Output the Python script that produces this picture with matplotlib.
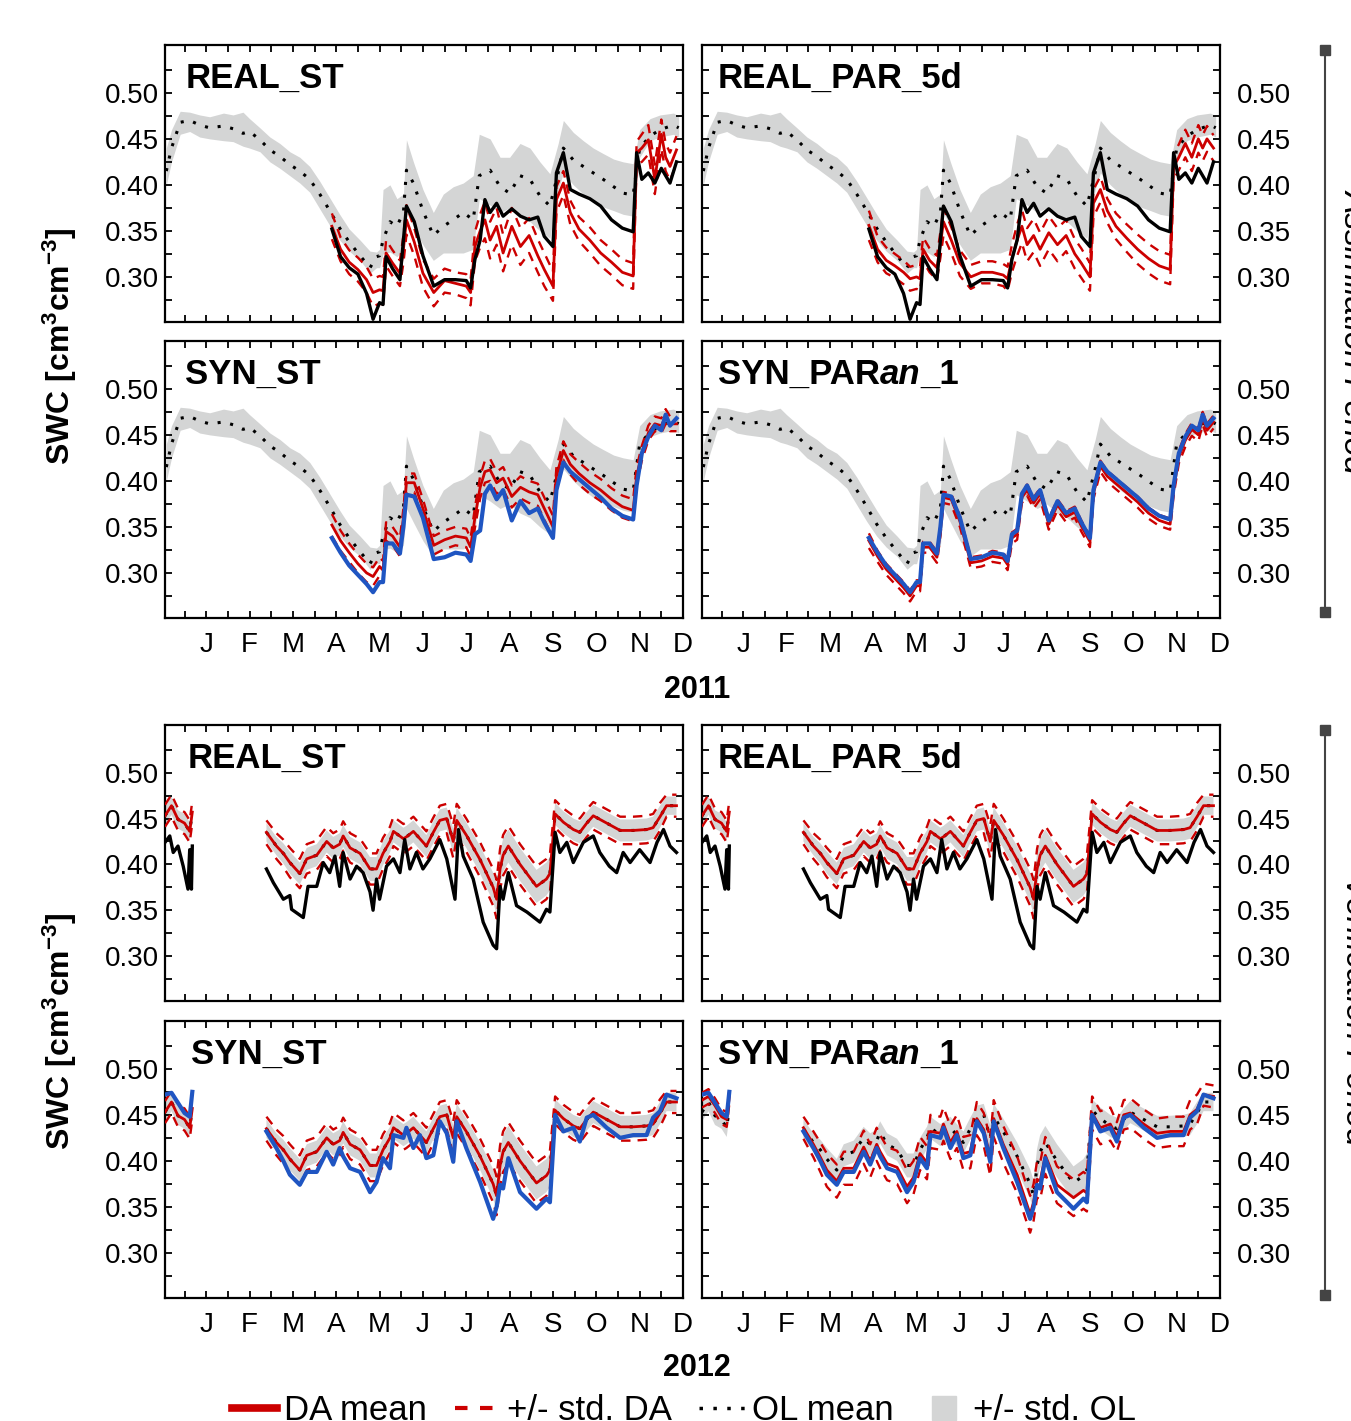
import numpy as np
import matplotlib.pyplot as plt
from matplotlib.lines import Line2D

plt.rcParams['font.family'] = ['Liberation Sans', 'DejaVu Sans']
plt.rcParams['mathtext.fontset'] = 'custom'
plt.rcParams['mathtext.rm'] = 'Liberation Sans'
plt.rcParams['mathtext.bf'] = 'Liberation Sans:bold'
plt.rcParams['mathtext.default'] = 'bf'

nan = np.nan
months = ['J', 'F', 'M', 'A', 'M', 'J', 'J', 'A', 'S', 'O', 'N', 'D']
ytick_vals = [0.30, 0.35, 0.40, 0.45, 0.50]
ytick_labels = ['0.30', '0.35', '0.40', '0.45', '0.50']

# ---- 2011 (assimilation period), x in months since 1 Dec 2010 ----
t_ol11 = [0.08, 0.2, 0.4, 0.62, 0.85, 1.08, 1.4, 1.62, 1.85, 2.0,
          2.24, 2.47, 2.7, 2.93, 3.16, 3.39, 3.62, 3.85, 4.08, 4.3,
          4.55, 4.78, 4.93, 5.0, 5.08, 5.24, 5.4, 5.55, 5.62, 5.78,
          6.0, 6.24, 6.47, 6.7, 6.93, 7.16, 7.3, 7.55, 7.78, 8.0,
          8.24, 8.47, 8.7, 8.93, 9.12, 9.24, 9.47, 9.7, 9.93, 10.16,
          10.4, 10.62, 10.85, 11.0, 11.24, 11.47, 11.78, 11.9]
ol11_mean = [0.415, 0.44, 0.468, 0.47, 0.465, 0.462, 0.464, 0.461, 0.456, 0.458,
             0.449, 0.438, 0.431, 0.422, 0.415, 0.406, 0.39, 0.372, 0.353, 0.338,
             0.323, 0.31, 0.322, 0.323, 0.34, 0.36, 0.355, 0.37, 0.416, 0.402,
             0.372, 0.345, 0.355, 0.362, 0.37, 0.362, 0.41, 0.416, 0.398, 0.391,
             0.41, 0.406, 0.388, 0.377, 0.413, 0.44, 0.427, 0.42, 0.413, 0.406,
             0.398, 0.391, 0.389, 0.44, 0.453, 0.46, 0.465, 0.462]
ol11_hi = [0.44, 0.46, 0.48, 0.479, 0.476, 0.474, 0.478, 0.476, 0.479, 0.472,
           0.462, 0.452, 0.445, 0.436, 0.43, 0.42, 0.404, 0.386, 0.368, 0.352,
           0.34, 0.328, 0.327, 0.33, 0.395, 0.4, 0.385, 0.39, 0.449, 0.425,
           0.395, 0.37, 0.39, 0.398, 0.402, 0.41, 0.455, 0.45, 0.43, 0.43,
           0.445, 0.44, 0.425, 0.412, 0.445, 0.47, 0.457, 0.448, 0.44, 0.434,
           0.428, 0.425, 0.423, 0.46, 0.472, 0.476, 0.478, 0.475]
ol11_lo = [0.40, 0.425, 0.455, 0.458, 0.452, 0.45, 0.448, 0.447, 0.442, 0.44,
           0.436, 0.425, 0.418, 0.41, 0.402, 0.392, 0.374, 0.356, 0.34, 0.328,
           0.318, 0.304, 0.31, 0.31, 0.325, 0.327, 0.322, 0.33, 0.37, 0.355,
           0.335, 0.318, 0.326, 0.326, 0.326, 0.33, 0.385, 0.378, 0.37, 0.375,
           0.365, 0.36, 0.35, 0.342, 0.395, 0.413, 0.4, 0.39, 0.382, 0.376,
           0.372, 0.368, 0.366, 0.43, 0.448, 0.452, 0.455, 0.452]

t_da11 = [3.9, 4.1, 4.3, 4.5, 4.7, 4.85, 5.0, 5.08, 5.15, 5.3,
          5.47, 5.55, 5.62, 5.8, 6.0, 6.25, 6.5, 6.75, 7.0, 7.1,
          7.2, 7.32, 7.43, 7.55, 7.7, 7.85, 8.05, 8.25, 8.45, 8.65,
          8.8, 9.0, 9.08, 9.24, 9.4, 9.6, 9.85, 10.1, 10.35, 10.6,
          10.85, 10.93, 11.05, 11.2, 11.35, 11.5, 11.6, 11.7, 11.85]
obs11_real = [0.352, 0.322, 0.31, 0.303, 0.282, 0.254, 0.272, 0.27, 0.322, 0.309,
              0.297, 0.34, 0.377, 0.36, 0.323, 0.29, 0.297, 0.297, 0.296, 0.288,
              0.319, 0.34, 0.384, 0.37, 0.38, 0.366, 0.374, 0.366, 0.362, 0.365,
              0.344, 0.333, 0.413, 0.435, 0.395, 0.39, 0.385, 0.377, 0.362, 0.353,
              0.349, 0.435, 0.406, 0.413, 0.402, 0.418, 0.41, 0.402, 0.425]
obs11_syn = [0.338, 0.322, 0.308, 0.298, 0.288, 0.279, 0.29, 0.29, 0.332, 0.332,
             0.321, 0.35, 0.385, 0.383, 0.36, 0.315, 0.317, 0.322, 0.32, 0.313,
             0.342, 0.346, 0.386, 0.395, 0.38, 0.39, 0.357, 0.378, 0.365, 0.37,
             0.355, 0.338, 0.39, 0.42, 0.41, 0.402, 0.392, 0.382, 0.37, 0.362,
             0.358, 0.395, 0.43, 0.448, 0.46, 0.455, 0.472, 0.46, 0.468]
da11_real_st = [0.355, 0.33, 0.316, 0.308, 0.297, 0.283, 0.286, 0.285, 0.326, 0.315,
                0.304, 0.33, 0.362, 0.338, 0.304, 0.283, 0.296, 0.293, 0.29, 0.283,
                0.333, 0.35, 0.362, 0.34, 0.355, 0.326, 0.355, 0.333, 0.345, 0.323,
                0.308, 0.29, 0.384, 0.402, 0.37, 0.352, 0.34, 0.326, 0.316, 0.305,
                0.301, 0.435, 0.44, 0.449, 0.406, 0.455, 0.43, 0.42, 0.438]
sd11_real_st = [0.014, 0.013, 0.013, 0.013, 0.014, 0.015, 0.015, 0.015, 0.014, 0.014,
                0.014, 0.015, 0.016, 0.015, 0.015, 0.015, 0.013, 0.012, 0.013, 0.014,
                0.016, 0.018, 0.02, 0.02, 0.02, 0.02, 0.02, 0.02, 0.019, 0.018,
                0.018, 0.016, 0.014, 0.013, 0.013, 0.013, 0.014, 0.014, 0.014, 0.014,
                0.014, 0.012, 0.015, 0.016, 0.016, 0.016, 0.015, 0.015, 0.015]
da11_real_par = [0.356, 0.33, 0.318, 0.312, 0.305, 0.298, 0.3, 0.298, 0.33, 0.318,
                 0.31, 0.335, 0.36, 0.34, 0.315, 0.3, 0.305, 0.305, 0.302, 0.298,
                 0.32, 0.34, 0.355, 0.335, 0.345, 0.33, 0.348, 0.335, 0.345, 0.325,
                 0.315, 0.3, 0.38, 0.395, 0.372, 0.355, 0.342, 0.33, 0.32, 0.312,
                 0.308, 0.42, 0.43, 0.445, 0.43, 0.45, 0.44, 0.45, 0.44]
sd11_real_par = [0.016, 0.014, 0.014, 0.013, 0.013, 0.013, 0.013, 0.013, 0.013, 0.013,
                 0.013, 0.014, 0.015, 0.014, 0.014, 0.013, 0.012, 0.012, 0.012, 0.013,
                 0.015, 0.017, 0.018, 0.018, 0.018, 0.018, 0.018, 0.018, 0.017, 0.016,
                 0.016, 0.015, 0.015, 0.014, 0.013, 0.014, 0.015, 0.016, 0.016, 0.016,
                 0.016, 0.014, 0.014, 0.015, 0.015, 0.015, 0.014, 0.014, 0.014]
da11_syn_st = [0.352, 0.335, 0.322, 0.31, 0.3, 0.296, 0.307, 0.303, 0.345, 0.34,
               0.328, 0.36, 0.398, 0.398, 0.37, 0.33, 0.336, 0.34, 0.338, 0.328,
               0.36, 0.393, 0.41, 0.412, 0.398, 0.403, 0.383, 0.393, 0.388, 0.385,
               0.37, 0.35, 0.405, 0.433, 0.418, 0.408, 0.398, 0.39, 0.38, 0.372,
               0.368, 0.405, 0.43, 0.452, 0.462, 0.46, 0.47, 0.462, 0.462]
sd11_syn_st = [0.012, 0.011, 0.01, 0.01, 0.01, 0.01, 0.01, 0.01, 0.01, 0.01,
               0.01, 0.01, 0.01, 0.01, 0.01, 0.01, 0.01, 0.01, 0.01, 0.01,
               0.011, 0.012, 0.012, 0.012, 0.012, 0.012, 0.012, 0.012, 0.012, 0.012,
               0.012, 0.012, 0.01, 0.01, 0.011, 0.012, 0.012, 0.012, 0.012, 0.012,
               0.012, 0.01, 0.008, 0.008, 0.008, 0.008, 0.008, 0.008, 0.008]
da11_syn_par = [0.335, 0.318, 0.304, 0.294, 0.284, 0.275, 0.286, 0.286, 0.328, 0.328,
                0.317, 0.346, 0.382, 0.38, 0.356, 0.311, 0.313, 0.318, 0.316, 0.309,
                0.338, 0.342, 0.382, 0.39, 0.376, 0.386, 0.353, 0.374, 0.361, 0.366,
                0.351, 0.334, 0.386, 0.416, 0.405, 0.397, 0.387, 0.377, 0.365, 0.357,
                0.353, 0.39, 0.426, 0.444, 0.456, 0.45, 0.468, 0.455, 0.464]
sd11_syn_par = [0.008, 0.006, 0.006, 0.006, 0.006, 0.006, 0.006, 0.006, 0.006, 0.006,
                0.006, 0.006, 0.006, 0.006, 0.006, 0.006, 0.006, 0.006, 0.006, 0.006,
                0.006, 0.006, 0.006, 0.006, 0.006, 0.006, 0.006, 0.006, 0.006, 0.006,
                0.006, 0.006, 0.006, 0.006, 0.006, 0.006, 0.006, 0.006, 0.006, 0.006,
                0.006, 0.006, 0.007, 0.007, 0.007, 0.007, 0.007, 0.007, 0.007]

# ---- 2012 (verification period), x in months since 1 Dec 2011 ----
t12 = [0.05, 0.2, 0.35, 0.5, 0.62, 0.68, 1.5,
       2.39, 2.62, 2.78, 2.93, 3.16, 3.32, 3.55, 3.78, 3.93, 4.08,
       4.16, 4.32, 4.55, 4.78, 4.93, 5.08, 5.24, 5.32, 5.55, 5.62,
       5.78, 5.93, 6.08, 6.24, 6.39, 6.55, 6.7, 6.78, 7.0, 7.32,
       7.62, 7.7, 7.78, 7.85, 7.97, 8.24, 8.62, 8.85, 8.93, 9.05,
       9.24, 9.47, 9.62, 9.78, 9.93, 10.24, 10.55, 10.85, 11.16, 11.31,
       11.47, 11.62, 11.85]
ol12_mean = [0.453, 0.464, 0.449, 0.445, 0.436, 0.457, nan,
             0.435, 0.42, 0.412, 0.402, 0.39, 0.406, 0.41, 0.425, 0.418, 0.422,
             0.431, 0.418, 0.412, 0.395, 0.395, 0.412, 0.425, 0.436, 0.428, 0.43,
             0.436, 0.428, 0.42, 0.435, 0.448, 0.45, 0.425, 0.448, 0.432, 0.405,
             0.375, 0.362, 0.395, 0.41, 0.42, 0.4, 0.376, 0.384, 0.39, 0.455,
             0.446, 0.438, 0.435, 0.445, 0.453, 0.445, 0.437, 0.437, 0.438, 0.44,
             0.452, 0.464, 0.464]
ol12_sd = [0.01, 0.01, 0.01, 0.01, 0.01, 0.01, nan,
           0.01, 0.01, 0.011, 0.012, 0.012, 0.012, 0.012, 0.012, 0.012, 0.012,
           0.012, 0.012, 0.012, 0.013, 0.013, 0.013, 0.012, 0.012, 0.012, 0.012,
           0.012, 0.012, 0.012, 0.012, 0.012, 0.012, 0.014, 0.014, 0.014, 0.015,
           0.016, 0.017, 0.018, 0.018, 0.018, 0.018, 0.018, 0.018, 0.018, 0.012,
           0.012, 0.012, 0.012, 0.012, 0.012, 0.012, 0.012, 0.012, 0.012, 0.012,
           0.012, 0.01, 0.01]
sd12_st = [0.012, 0.012, 0.012, 0.012, 0.012, 0.012, nan,
           0.013, 0.014, 0.015, 0.016, 0.016, 0.016, 0.016, 0.016, 0.016, 0.016,
           0.016, 0.016, 0.016, 0.017, 0.017, 0.017, 0.016, 0.016, 0.016, 0.016,
           0.016, 0.016, 0.016, 0.016, 0.016, 0.016, 0.018, 0.018, 0.018, 0.019,
           0.02, 0.021, 0.022, 0.022, 0.022, 0.022, 0.022, 0.022, 0.021, 0.015,
           0.015, 0.015, 0.015, 0.015, 0.015, 0.015, 0.015, 0.015, 0.015, 0.015,
           0.015, 0.012, 0.012]
obs12_syn = [0.472, 0.474, 0.463, 0.452, 0.448, 0.475, nan,
             0.432, 0.414, 0.4, 0.385, 0.374, 0.388, 0.388, 0.41, 0.396, 0.414,
             0.405, 0.392, 0.388, 0.366, 0.377, 0.403, 0.392, 0.428, 0.425, 0.436,
             0.414, 0.428, 0.403, 0.406, 0.443, 0.43, 0.399, 0.443, 0.414, 0.377,
             0.337, 0.35, 0.374, 0.37, 0.403, 0.366, 0.348, 0.359, 0.355, 0.45,
             0.432, 0.436, 0.421, 0.447, 0.45, 0.436, 0.425, 0.428, 0.428, 0.447,
             0.454, 0.472, 0.468]
da12_syn_par = [0.466, 0.47, 0.46, 0.448, 0.445, 0.47, nan,
                0.436, 0.418, 0.404, 0.39, 0.378, 0.392, 0.392, 0.415, 0.4, 0.418,
                0.41, 0.397, 0.393, 0.372, 0.382, 0.408, 0.398, 0.432, 0.43, 0.44,
                0.42, 0.432, 0.408, 0.41, 0.446, 0.434, 0.404, 0.446, 0.418, 0.385,
                0.342, 0.355, 0.38, 0.378, 0.406, 0.374, 0.36, 0.368, 0.365, 0.452,
                0.436, 0.44, 0.426, 0.45, 0.452, 0.44, 0.43, 0.432, 0.432, 0.45,
                0.456, 0.472, 0.47]
sd12_syn_par = [0.008, 0.008, 0.008, 0.008, 0.008, 0.008, nan,
                0.012, 0.014, 0.016, 0.018, 0.018, 0.018, 0.018, 0.018, 0.018, 0.018,
                0.018, 0.018, 0.018, 0.018, 0.018, 0.018, 0.018, 0.018, 0.018, 0.018,
                0.018, 0.018, 0.018, 0.018, 0.018, 0.018, 0.02, 0.02, 0.02, 0.02,
                0.02, 0.02, 0.02, 0.02, 0.02, 0.02, 0.02, 0.02, 0.02, 0.018,
                0.018, 0.018, 0.016, 0.016, 0.016, 0.016, 0.016, 0.016, 0.016, 0.016,
                0.016, 0.012, 0.012]
t12_real = [0.05, 0.16, 0.24, 0.35, 0.47, 0.58, 0.62, 0.66, 0.68, 1.5,
            2.39, 2.55, 2.78, 2.93, 2.97, 3.24, 3.35, 3.55, 3.7, 3.85,
            3.97, 4.08, 4.16, 4.32, 4.47, 4.62, 4.78, 4.85, 4.93, 5.0,
            5.16, 5.32, 5.47, 5.58, 5.7, 5.85, 6.0, 6.16, 6.39, 6.55,
            6.74, 6.82, 6.93, 7.16, 7.39, 7.62, 7.7, 7.78, 7.85, 7.97,
            8.16, 8.4, 8.7, 8.85, 8.93, 9.05, 9.16, 9.32, 9.47, 9.7,
            9.93, 10.08, 10.3, 10.47, 10.62, 10.78, 11.0, 11.24, 11.4, 11.55,
            11.7, 11.85]
obs12_real = [0.424, 0.431, 0.413, 0.42, 0.398, 0.373, 0.416, 0.373, 0.42, nan,
              0.395, 0.38, 0.362, 0.366, 0.351, 0.342, 0.376, 0.376, 0.402, 0.391,
              0.409, 0.376, 0.413, 0.384, 0.398, 0.391, 0.37, 0.35, 0.384, 0.362,
              0.398, 0.406, 0.391, 0.427, 0.395, 0.413, 0.395, 0.406, 0.427, 0.406,
              0.362, 0.438, 0.409, 0.384, 0.337, 0.312, 0.308, 0.376, 0.362, 0.391,
              0.355, 0.348, 0.337, 0.351, 0.348, 0.435, 0.413, 0.424, 0.402, 0.424,
              0.431, 0.413, 0.398, 0.391, 0.413, 0.402, 0.416, 0.402, 0.424, 0.438,
              0.42, 0.413]

RED = '#cc0000'
BLUE = '#1f55c2'
GREY = '#d4d5d5'
W, H = 1351, 1421

fig = plt.figure(figsize=(W / 100, H / 100), dpi=100)


def add_ax(x0, y0, x1, y1):
    return fig.add_axes([x0 / W, 1 - y1 / H, (x1 - x0) / W, (y1 - y0) / H])


def draw(ax, t_ol, ol_m, ol_lo, ol_hi, t_da, da_m, da_sd, t_obs, obs, obs_col, obs_lw):
    da_m = np.array(da_m)
    da_sd = np.array(da_sd)
    ax.fill_between(t_ol, ol_lo, ol_hi, color=GREY, lw=0, zorder=1)
    ax.plot(t_ol, ol_m, color='k', lw=2.2, ls=(0, (1, 3.2)), zorder=2)
    ax.plot(t_da, da_m + da_sd, color=RED, lw=1.7, ls=(0, (4, 3)), zorder=3)
    ax.plot(t_da, da_m - da_sd, color=RED, lw=1.7, ls=(0, (4, 3)), zorder=3)
    ax.plot(t_da, da_m, color=RED, lw=2.0, zorder=4)
    ax.plot(t_obs, obs, color=obs_col, lw=obs_lw, zorder=5)


def style(ax, right, xlab):
    ax.set_xlim(0.05, 12.0)
    ax.set_ylim(0.251, 0.552)
    ax.set_yticks(ytick_vals)
    ax.set_yticklabels(ytick_labels)
    ax.set_yticks([0.275, 0.325, 0.375, 0.425, 0.475, 0.525], minor=True)
    ax.set_xticks(range(1, 13))
    ax.set_xticks(np.arange(0.5, 12, 1.0), minor=True)
    ax.tick_params(which='both', direction='in', top=True, bottom=True,
                   left=True, right=True, length=5, width=1.3)
    ax.tick_params(axis='y', labelsize=20, labelleft=not right,
                   labelright=right, pad=12 if right else 4)
    if xlab:
        ax.set_xticklabels(months)
        ax.tick_params(axis='x', labelsize=20, pad=10)
    else:
        ax.set_xticklabels([])
    for s in ax.spines.values():
        s.set_linewidth(1.6)


def title(ax, x, text):
    if text.startswith('SYN_PAR'):
        t1 = ax.text(x, 0.88, 'SYN_PAR', transform=ax.transAxes, fontsize=25,
                     weight='bold', va='center', zorder=6)
        t2 = ax.annotate('an', xy=(1, 0), xycoords=t1, va='bottom', fontsize=25,
                         weight='bold', style='italic', zorder=6)
        ax.annotate('_1', xy=(1, 0), xycoords=t2, va='bottom', fontsize=25,
                    weight='bold', zorder=6)
    else:
        ax.text(x, 0.88, text, transform=ax.transAxes, fontsize=25,
                weight='bold', va='center', zorder=6)


rows = [(45, 322), (341, 618), (725, 1001), (1021, 1298)]
cols = [(165, 683), (702, 1220)]

ol12_mean_a = np.array(ol12_mean)
ol12_sd_a = np.array(ol12_sd)
ol12_lo = ol12_mean_a - ol12_sd_a
ol12_hi = ol12_mean_a + ol12_sd_a

# 2011 panels
ax = add_ax(cols[0][0], rows[0][0], cols[0][1], rows[0][1])
draw(ax, t_ol11, ol11_mean, ol11_lo, ol11_hi, t_da11, da11_real_st, sd11_real_st,
     t_da11, obs11_real, 'k', 2.4)
style(ax, False, False)
title(ax, 0.039, 'REAL_ST')

ax = add_ax(cols[1][0], rows[0][0], cols[1][1], rows[0][1])
draw(ax, t_ol11, ol11_mean, ol11_lo, ol11_hi, t_da11, da11_real_par, sd11_real_par,
     t_da11, obs11_real, 'k', 2.4)
style(ax, True, False)
title(ax, 0.03, 'REAL_PAR_5d')

ax = add_ax(cols[0][0], rows[1][0], cols[0][1], rows[1][1])
draw(ax, t_ol11, ol11_mean, ol11_lo, ol11_hi, t_da11, da11_syn_st, sd11_syn_st,
     t_da11, obs11_syn, BLUE, 3.0)
style(ax, False, True)
title(ax, 0.039, 'SYN_ST')

ax = add_ax(cols[1][0], rows[1][0], cols[1][1], rows[1][1])
draw(ax, t_ol11, ol11_mean, ol11_lo, ol11_hi, t_da11, da11_syn_par, sd11_syn_par,
     t_da11, obs11_syn, BLUE, 3.0)
style(ax, True, True)
title(ax, 0.03, 'SYN_PARan_1')

# 2012 panels
ax = add_ax(cols[0][0], rows[2][0], cols[0][1], rows[2][1])
draw(ax, t12, ol12_mean, ol12_lo, ol12_hi, t12, ol12_mean, sd12_st,
     t12_real, obs12_real, 'k', 2.4)
style(ax, False, False)
title(ax, 0.044, 'REAL_ST')

ax = add_ax(cols[1][0], rows[2][0], cols[1][1], rows[2][1])
draw(ax, t12, ol12_mean, ol12_lo, ol12_hi, t12, ol12_mean, sd12_st,
     t12_real, obs12_real, 'k', 2.4)
style(ax, True, False)
title(ax, 0.03, 'REAL_PAR_5d')

ax = add_ax(cols[0][0], rows[3][0], cols[0][1], rows[3][1])
draw(ax, t12, ol12_mean, ol12_lo, ol12_hi, t12, ol12_mean, sd12_st,
     t12, obs12_syn, BLUE, 3.0)
style(ax, False, True)
title(ax, 0.05, 'SYN_ST')

ax = add_ax(cols[1][0], rows[3][0], cols[1][1], rows[3][1])
draw(ax, t12, ol12_mean, ol12_lo, ol12_hi, t12, da12_syn_par, sd12_syn_par,
     t12, obs12_syn, BLUE, 3.0)
style(ax, True, True)
title(ax, 0.03, 'SYN_PARan_1')

# figure texts
fig.text(697 / W, 1 - 690 / H, '2011', ha='center', va='center', fontsize=22, weight='bold')
fig.text(697 / W, 1 - 1368 / H, '2012', ha='center', va='center', fontsize=22, weight='bold')
ylab = r'SWC [cm$^{3}$cm$^{-3}$]'
fig.text(60 / W, 1 - 346 / H, ylab, rotation=90, ha='center', va='center',
         fontsize=23, weight='bold')
fig.text(60 / W, 1 - 1031 / H, ylab, rotation=90, ha='center', va='center',
         fontsize=23, weight='bold')

for (y0, y1), lab, yc in [((50, 612), 'Assimilation Period', 331),
                          ((730, 1295), 'Verification Period', 1011)]:
    fig.add_artist(Line2D([1325 / W, 1325 / W], [1 - y0 / H, 1 - y1 / H],
                          color='#444444', lw=1.5, marker='s', markersize=7,
                          transform=fig.transFigure))
    fig.text(1339 / W, 1 - yc / H, lab, rotation=-90, ha='left', va='center',
             fontsize=24, style='italic')

handles = [Line2D([], [], color=RED, lw=5.5),
           Line2D([], [], color=RED, lw=3, ls=(0, (3, 3))),
           Line2D([], [], color='k', lw=2.5, ls=(0, (1, 3))),
           Line2D([], [], color=GREY, marker='s', markersize=17, ls='none')]
fig.legend(handles, ['DA mean', '+/- std. DA', 'OL mean', '+/- std. OL'],
           loc='center', bbox_to_anchor=(684 / W, 1 - 1411 / H), ncol=4,
           frameon=False, fontsize=25, handlelength=1.3, handletextpad=0.2,
           columnspacing=0.8, borderaxespad=0, borderpad=0)

fig.savefig('out.png', dpi=100)
